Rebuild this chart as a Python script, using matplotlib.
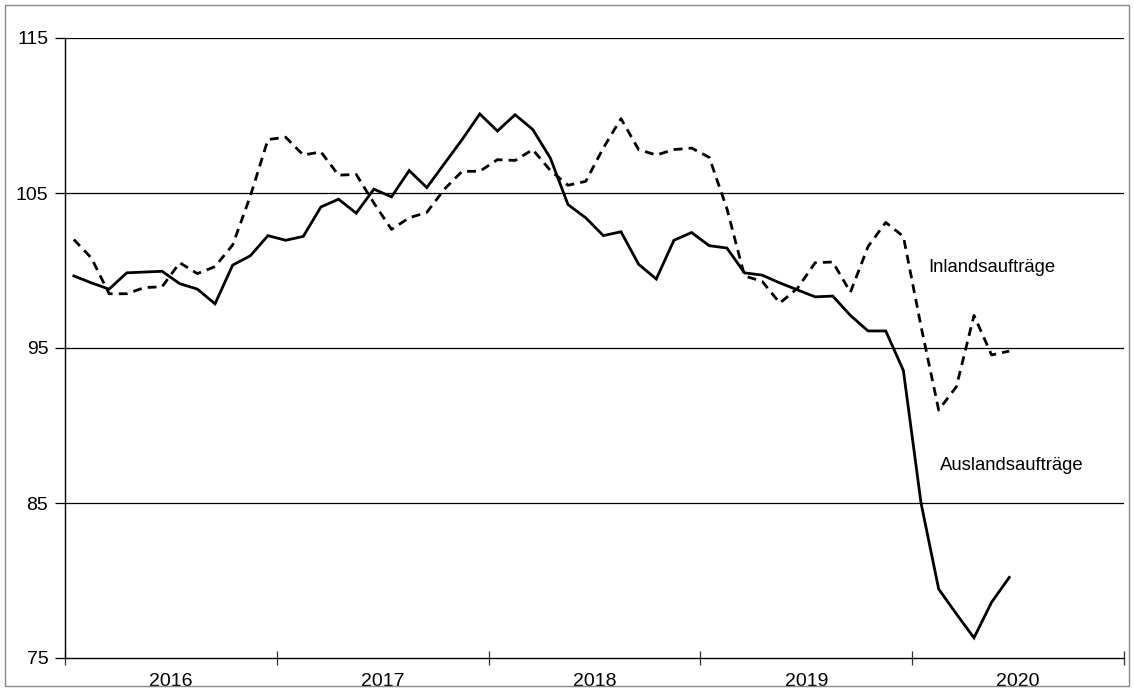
import matplotlib
matplotlib.use("Agg")
import matplotlib.pyplot as plt
from matplotlib.patches import Rectangle
import numpy as np

plt.rcParams['font.family'] = ['Liberation Sans', 'DejaVu Sans']

years = ["2016", "2017", "2018", "2019", "2020"]

# monthly values Jan 2016 .. Jun 2020
inland = [102.0, 100.8, 98.5, 98.5, 98.9, 98.95, 100.5, 99.8, 100.25, 101.65, 104.8, 108.45,
          108.6, 107.45, 107.65, 106.15, 106.2, 104.35, 102.65, 103.4, 103.75, 105.25, 106.4, 106.4,
          107.15, 107.1, 107.8, 106.45, 105.5, 105.75, 107.9, 109.8, 107.8, 107.45, 107.8, 107.9,
          107.3, 104.0, 99.65, 99.3, 97.9, 98.85, 100.5, 100.55, 98.6, 101.55, 103.1, 102.2,
          96.4, 91.0, 92.5, 97.1, 94.55, 94.8]
ausland = [99.65, 99.2, 98.8, 99.85, 99.9, 99.95, 99.15, 98.8, 97.85, 100.35, 100.95, 102.25,
           101.95, 102.2, 104.1, 104.6, 103.7, 105.25, 104.75, 106.45, 105.35, 106.9, 108.45, 110.1,
           109.0, 110.05, 109.1, 107.25, 104.25, 103.4, 102.25, 102.5, 100.4, 99.45, 101.95, 102.45,
           101.6, 101.45, 99.85, 99.7, 99.2, 98.75, 98.3, 98.35, 97.1, 96.1, 96.1, 93.55,
           85.0, 79.45, 77.85, 76.3, 78.6, 80.2]

label_inland = "Inlandsaufträge"
label_ausland = "Auslandsaufträge"

fig = plt.figure(figsize=(11.34, 6.91), dpi=100)
ax = fig.add_axes([65/1134, 1-658/691, (1124-65)/1134, (658-38)/691])

x = np.arange(len(inland)) + 0.5
ax.plot(x, ausland, color='black', lw=2.0, solid_joinstyle='miter')
ax.plot(x, inland, color='black', lw=2.0, linestyle=(0, (3.2, 2.2)))

ax.set_xlim(0, 60)
ax.set_ylim(75, 115)
ax.set_yticks([75, 85, 95, 105, 115])
for v in [85, 95, 105, 115]:
    ax.axhline(v, color='black', lw=0.9, zorder=0)

ax.set_xticks([0, 12, 24, 36, 48, 60], minor=False)
ax.set_xticklabels([])
ax.set_xticks([6, 18, 30, 42, 54], minor=True)
ax.set_xticklabels(years, minor=True)
ax.tick_params(axis='x', which='major', direction='inout', length=10, width=0.9, color='#333333')
ax.tick_params(axis='x', which='minor', length=0, pad=11, labelsize=14)
ax.tick_params(axis='y', which='major', direction='out', length=7, width=0.9, labelsize=14, pad=5)

for s in ['top', 'right']:
    ax.spines[s].set_visible(False)
for s in ['left', 'bottom']:
    ax.spines[s].set_color('black')
    ax.spines[s].set_linewidth(1.0)

ax.text(48.9, 100.2, label_inland, fontsize=13.3, va='center', ha='left')
ax.text(49.6, 87.45, label_ausland, fontsize=13.3, va='center', ha='left')

fig.patches.append(Rectangle((5/1134, 5/691), 1124/1134, 681/691, transform=fig.transFigure,
                             fill=False, edgecolor='#888888', lw=1.0))

fig.savefig("out.png", dpi=100)
